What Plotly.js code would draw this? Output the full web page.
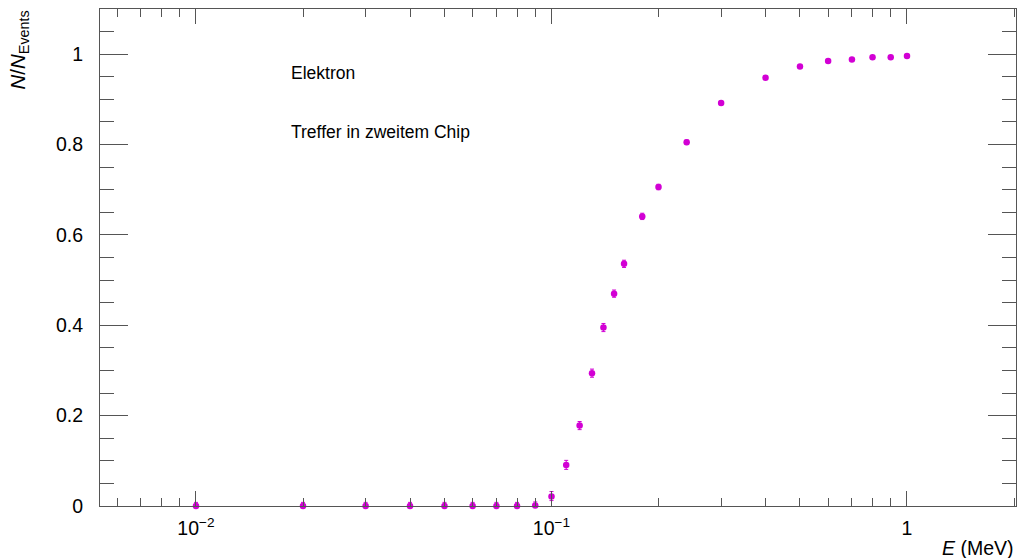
<!DOCTYPE html>
<html>
<head>
<meta charset="utf-8">
<script src="https://cdn.plot.ly/plotly-3.0.1.min.js"></script>
<style>html,body{margin:0;padding:0;background:#fff;}#chart{width:1017px;height:558px;}</style>
</head>
<body>
<div id="chart"></div>
<script>
// Energy in MeV
const energy = [0.01, 0.02, 0.03, 0.04, 0.05, 0.06, 0.07, 0.08, 0.09, 0.10,
                0.11, 0.12, 0.13, 0.14, 0.15, 0.16, 0.18, 0.20, 0.24, 0.30,
                0.40, 0.50, 0.60, 0.70, 0.80, 0.90, 1.00];
// Fraction of events with hit in second chip
const fraction = [0.0, 0.0, 0.0, 0.0, 0.0, 0.0, 0.0, 0.0, 0.001, 0.021,
                  0.091, 0.178, 0.294, 0.395, 0.470, 0.536, 0.641, 0.706, 0.805, 0.892,
                  0.948, 0.973, 0.985, 0.988, 0.993, 0.993, 0.996];
const errUp = [0.008, 0.008, 0.008, 0.008, 0.008, 0.008, 0.008, 0.008, 0.008, 0.011,
               0.010, 0.009, 0.009, 0.009, 0.008, 0.008, 0.007, 0.006, 0.005, 0.004,
               0.003, 0.003, 0.003, 0.003, 0.002, 0.002, 0.002];
const errDown = [0.0, 0.0, 0.0, 0.0, 0.0, 0.0, 0.0, 0.0, 0.001, 0.009,
                 0.010, 0.009, 0.009, 0.009, 0.008, 0.008, 0.007, 0.006, 0.005, 0.004,
                 0.003, 0.003, 0.003, 0.003, 0.002, 0.002, 0.002];
const majorTicksX = [0.01, 0.1, 1];
const majorLabelsX = ['10<sup>\u22122</sup>', '10<sup>\u22121</sup>', '1'];
const minorTicksX = [0.006, 0.007, 0.008, 0.009, 0.02, 0.03, 0.04, 0.05, 0.06, 0.07, 0.08, 0.09,
                     0.2, 0.3, 0.4, 0.5, 0.6, 0.7, 0.8, 0.9, 2];
const magenta = '#d200d4';
const fontFam = 'Liberation Sans, Arial, sans-serif';

const trace = {
  x: energy, y: fraction, type: 'scatter', mode: 'markers',
  marker: {color: magenta, size: 6.5},
  error_y: {type: 'data', symmetric: false, array: errUp, arrayminus: errDown,
            color: magenta, thickness: 1, width: 2},
  cliponaxis: false, hoverinfo: 'x+y'
};

const layout = {
  width: 1017, height: 558,
  margin: {l: 100, r: 1, t: 9, b: 52},
  paper_bgcolor: '#fff', plot_bgcolor: '#fff',
  showlegend: false,
  font: {family: fontFam, color: '#000', size: 19.5},
  xaxis: {
    type: 'log', range: [Math.log10(0.00537), Math.log10(2.026)],
    tickmode: 'array', tickvals: majorTicksX, ticktext: majorLabelsX,
    ticks: 'inside', ticklen: 15, tickwidth: 1, tickcolor: '#555',
    showline: true, linecolor: '#555', linewidth: 1, mirror: 'ticks',
    showgrid: false, zeroline: false,
    tickfont: {size: 19.5, family: fontFam},
    ticklabelstandoff: 5,
    minor: {tickmode: 'array', tickvals: minorTicksX, ticks: 'inside', ticklen: 8,
            tickwidth: 1, tickcolor: '#555', showgrid: false}
  },
  yaxis: {
    range: [0, 1.1], tickmode: 'linear', tick0: 0, dtick: 0.2,
    ticks: 'inside', ticklen: 28, tickwidth: 1, tickcolor: '#555',
    showline: true, linecolor: '#555', linewidth: 1, mirror: 'ticks',
    showgrid: false, zeroline: false,
    tickfont: {size: 19.5, family: fontFam},
    ticklabelstandoff: 12,
    minor: {dtick: 0.05, tick0: 0, ticks: 'inside', ticklen: 14, tickwidth: 1,
            tickcolor: '#555', showgrid: false}
  },
  annotations: [
    {text: '<i>N</i>/<i>N</i><sub>Events</sub>', xref: 'paper', yref: 'paper',
     x: -0.0895, y: 1.0, xanchor: 'center', yanchor: 'top', textangle: -90,
     showarrow: false, font: {size: 20.5, family: fontFam}},
    {text: '<i>E</i> (MeV)', xref: 'paper', yref: 'paper',
     x: 1.0, y: -0.0845, xanchor: 'right', yanchor: 'middle',
     showarrow: false, font: {size: 19.5, family: fontFam}},
    {text: 'Elektron', xref: 'paper', yref: 'paper',
     x: 0.2063, y: 0.871, xanchor: 'left', yanchor: 'middle',
     showarrow: false, font: {size: 17.5, family: fontFam}},
    {text: 'Treffer in zweitem Chip', xref: 'paper', yref: 'paper',
     x: 0.2063, y: 0.7525, xanchor: 'left', yanchor: 'middle',
     showarrow: false, font: {size: 17.5, family: fontFam}}
  ]
};

Plotly.newPlot('chart', [trace], layout, {staticPlot: true, displayModeBar: false});
</script>
</body>
</html>
